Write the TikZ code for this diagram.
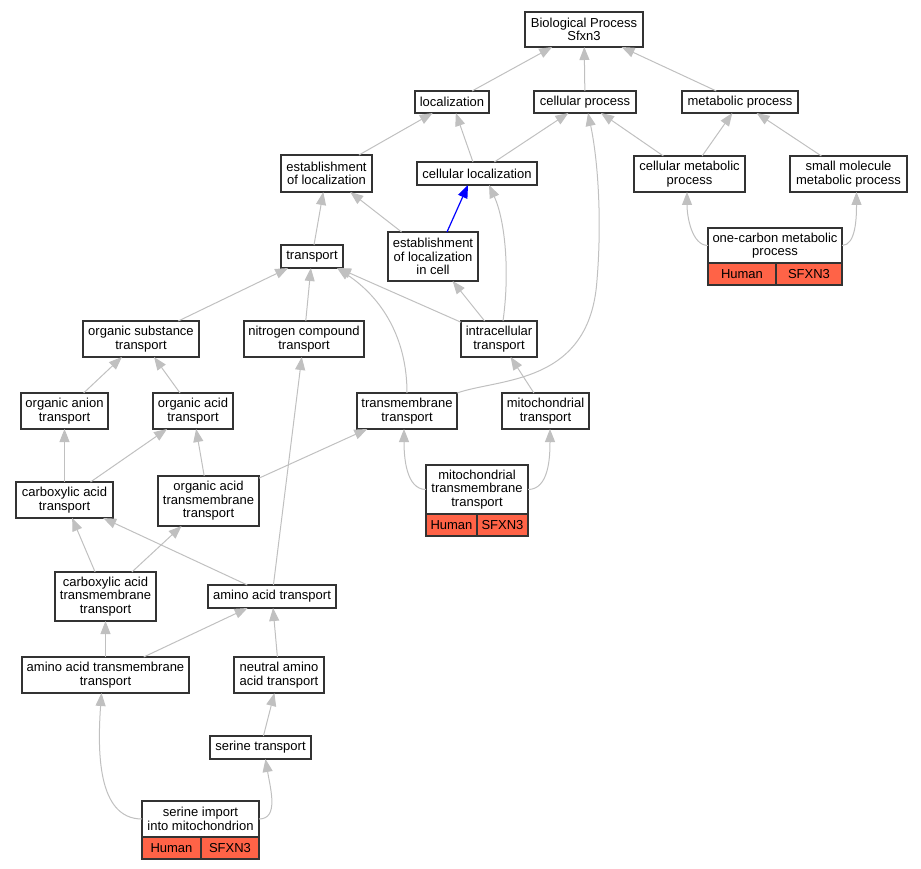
\documentclass[tikz,border=0pt]{standalone}
\usepackage{fontspec}
\setmainfont{Liberation Sans}
\usetikzlibrary{arrows.meta,calc}
\definecolor{edgegray}{RGB}{192,192,192}
\definecolor{orgred}{RGB}{255,99,71}

\begin{document}
\begin{tikzpicture}[x=1pt,y=-1pt,
  every node/.style={draw=black!80, line width=1.2pt, fill=white, inner sep=2pt, outer sep=0pt, align=center, font=\fontsize{13}{13.5}\selectfont},
  gene/.style={fill=orgred, minimum height=22, anchor=north west},
  edge/.style={draw=edgegray, line width=1pt, -{Triangle[length=13pt,width=10pt,fill=edgegray]}},
  partof/.style={draw=blue, line width=1.2pt, -{Triangle[length=13pt,width=10pt,fill=blue]}}]
\useasboundingbox (0,0) rectangle (921,869);

\node[minimum width=118, minimum height=35] (bp) at (584,29.5) {Biological Process\\Sfxn3};

\node[minimum width=74, minimum height=22] (loc) at (452,102) {localization};
\node[minimum width=102, minimum height=22] (cellp) at (585,102) {cellular process};
\node[minimum width=116, minimum height=22] (metp) at (740,102) {metabolic process};

\node[minimum width=91, minimum height=37] (estloc) at (326.5,173.5) {establishment\\of localization};
\node[minimum width=120, minimum height=23] (celloc) at (477,173.5) {cellular localization};
\node[minimum width=111, minimum height=36] (cellmet) at (689.5,174) {cellular metabolic\\process};
\node[minimum width=117, minimum height=36] (smallmol) at (848.5,174) {small molecule\\metabolic process};

\node[minimum width=134, minimum height=35] (onec) at (775,245.5) {one-carbon metabolic\\process};
\node[gene, minimum width=68] (onech) at (onec.south west) {Human};
\node[gene, minimum width=66] (onecs) at (onech.north east) {SFXN3};

\node[minimum width=62, minimum height=23] (transport) at (312,256.5) {transport};
\node[minimum width=90, minimum height=49] (estcell) at (433,256.5) {establishment\\of localization\\in cell};

\node[minimum width=116, minimum height=36] (orgsub) at (141,339) {organic substance\\transport};
\node[minimum width=120, minimum height=36] (nitro) at (304,339) {nitrogen compound\\transport};
\node[minimum width=76, minimum height=36] (intra) at (499,339) {intracellular\\transport};

\node[minimum width=87, minimum height=36] (organion) at (64.5,411) {organic anion\\transport};
\node[minimum width=80, minimum height=36] (orgacid) at (193,411) {organic acid\\transport};
\node[minimum width=100, minimum height=36] (tmt) at (407,411) {transmembrane\\transport};
\node[minimum width=87, minimum height=36] (mitot) at (545.5,411) {mitochondrial\\transport};

\node[minimum width=102, minimum height=49] (mitotmt) at (477,489.5) {mitochondrial\\transmembrane\\transport};
\node[gene, minimum width=51] (mitoh) at (mitotmt.south west) {Human};
\node[gene, minimum width=51] (mitos) at (mitoh.north east) {SFXN3};

\node[minimum width=97, minimum height=36] (carbox) at (64.5,500) {carboxylic acid\\transport};
\node[minimum width=101, minimum height=50] (oatmt) at (208.5,501) {organic acid\\transmembrane\\transport};

\node[minimum width=101, minimum height=49] (cxtmt) at (105.5,596.5) {carboxylic acid\\transmembrane\\transport};
\node[minimum width=128, minimum height=23] (aat) at (272,596.5) {amino acid transport};

\node[minimum width=167, minimum height=36] (aatmt) at (105.5,675) {amino acid transmembrane\\transport};
\node[minimum width=90, minimum height=36] (neutral) at (279,675) {neutral amino\\acid transport};

\node[minimum width=101, minimum height=23] (sert) at (260.5,747.5) {serine transport};

\node[minimum width=117, minimum height=36] (serimp) at (200.5,819) {serine import\\into mitochondrion};
\node[gene, minimum width=59] (serh) at (serimp.south west) {Human};
\node[gene, minimum width=58] (sers) at (serh.north east) {SFXN3};

% is_a
\draw[edge] (loc) -- (bp);
\draw[edge] (cellp) -- (bp);
\draw[edge] (metp) -- (bp);
\draw[edge] (estloc) -- (loc);
\draw[edge] (celloc) -- (loc);
\draw[edge] (celloc) -- (cellp);
\draw[edge] (cellmet) -- (cellp);
\draw[edge] (cellmet) -- (metp);
\draw[edge] (smallmol) -- (metp);
\draw[edge] (onec.west) .. controls +(-16,0) and +(0,25) .. ($(cellmet.south)+(-2.5,0)$);
\draw[edge] (onec.east) .. controls +(14,0) and +(0,25) .. ($(smallmol.south)+(8,0)$);
\draw[edge] (transport) -- (estloc);
\draw[edge] (estcell) -- (estloc);
\draw[edge] (intra) -- (estcell);
\draw[edge] ($(intra.north)+(4,0)$) .. controls +(7,-50) and +(16,35) .. ($(celloc.south)+(12,0)$);
\draw[edge] (intra) -- (transport);
\draw[edge] (orgsub) -- (transport);
\draw[edge] (nitro) -- (transport);
\draw[edge] (tmt.north) .. controls +(0,-55) and +(45,30) .. ($(transport.south east)+(-6,0)$);
\draw[edge] (tmt.north east) .. controls +(43,-15) and (590,385) .. (597,280)
  .. controls (602,220) and (598,160) .. ($(cellp.south)+(3,0)$);
\draw[edge] (mitot) -- (intra);
\draw[edge] (mitotmt.west) .. controls +(-20,0) and +(0,28) .. ($(tmt.south)+(-3,0)$);
\draw[edge] (mitotmt.east) .. controls +(21,0) and +(0,28) .. ($(mitot.south)+(4.5,0)$);
\draw[edge] (organion) -- (orgsub);
\draw[edge] (orgacid) -- (orgsub);
\draw[edge] (carbox) -- (organion);
\draw[edge] (carbox) -- (orgacid);
\draw[edge] (oatmt) -- (orgacid);
\draw[edge] (oatmt) -- (tmt);
\draw[edge] (cxtmt) -- (carbox);
\draw[edge] (cxtmt) -- (oatmt);
\draw[edge] (aat) -- (carbox);
\draw[edge] (aat) -- (nitro);
\draw[edge] (aatmt) -- (cxtmt);
\draw[edge] (aatmt) -- (aat);
\draw[edge] (neutral) -- (aat);
\draw[edge] (sert) -- (neutral);
\draw[edge] (serimp.west) .. controls +(-45,0) and +(-4,57) .. ($(aatmt.south)+(-4,0)$);
\draw[edge] (serimp.east) .. controls +(20,0) and +(5,30) .. ($(sert.south)+(5,0)$);

% part_of
\draw[partof] ($(estcell.north)+(14,0)$) -- ($(celloc.south)+(-9,0)$);
\end{tikzpicture}
\end{document}
